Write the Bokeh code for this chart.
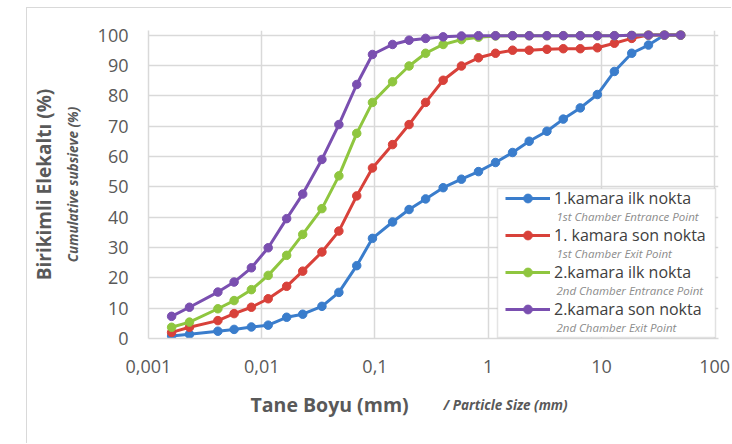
from bokeh.plotting import figure
from bokeh.layouts import column
from bokeh.models import (Range1d, FixedTicker, LinearAxis, CustomJSTickFormatter,
                          Label, Legend, LegendItem, BoxAnnotation)
from bokeh.embed import file_html
from bokeh.resources import INLINE

# ---------------- data ----------------
size_mm = [0.0016, 0.0023, 0.0041, 0.0057, 0.0081, 0.0114, 0.0166, 0.023, 0.034, 0.048,
           0.069, 0.095, 0.143, 0.2, 0.28, 0.4, 0.58, 0.82, 1.16, 1.64,
           2.3, 3.3, 4.6, 6.5, 9.2, 13, 18.5, 26, 36, 50]

ch1_entrance = [0.8, 1.4, 2.4, 3.0, 3.8, 4.4, 7.0, 8.0, 10.6, 15.2,
                24.0, 33.0, 38.4, 42.5, 46.0, 49.7, 52.5, 55.0, 58.0, 61.3,
                65.0, 68.3, 72.3, 76.0, 80.4, 88.0, 94.0, 96.7, 100, 100]
ch1_exit = [2.0, 3.7, 5.9, 8.2, 10.3, 13.1, 17.2, 22.2, 28.5, 35.4,
            47.0, 56.2, 63.9, 70.5, 77.8, 85.1, 89.8, 92.5, 94.0, 95.0,
            95.0, 95.3, 95.5, 95.5, 95.8, 97.3, 98.9, 100, 100, 100]
ch2_entrance = [3.7, 5.4, 9.8, 12.5, 16.1, 20.8, 27.4, 34.3, 42.8, 53.6,
                67.6, 77.8, 84.6, 89.8, 94.0, 96.9, 98.5, 99.3, 99.7, 99.8,
                99.8, 99.8, 99.8, 99.8, 99.8, 99.8, 99.9, 100, 100, 100]
ch2_exit = [7.3, 10.3, 15.3, 18.6, 23.3, 29.9, 39.5, 47.6, 59.0, 70.5,
            83.7, 93.6, 96.9, 98.3, 98.9, 99.4, 99.7, 99.8, 99.8, 99.8,
            99.8, 99.8, 99.8, 99.8, 99.8, 99.8, 99.9, 100, 100, 100]

series_names = ["1.kamara ilk nokta", "1. kamara son nokta",
                "2.kamara ilk nokta", "2.kamara son nokta"]
series_sub = ["1st Chamber Entrance Point", "1st Chamber Exit Point",
              "2nd Chamber Entrance Point", "2nd Chamber Exit Point"]
series_vals = [ch1_entrance, ch1_exit, ch2_entrance, ch2_exit]
series_colors = ["#3a7dcc", "#d8413a", "#8fc63f", "#7a4fb0"]

x_ticks = [0.001, 0.01, 0.1, 1, 10, 100]
y_ticks = [0, 10, 20, 30, 40, 50, 60, 70, 80, 90, 100]

TXT = "#595959"
GRID = "#d9d9d9"
FONT = "Open Sans"

p = figure(width=704, height=378, x_axis_type="log",
           x_range=Range1d(0.001, 108), y_range=Range1d(0, 101.5),
           output_backend="svg", toolbar_location=None,
           min_border_left=121, min_border_right=13,
           min_border_top=22, min_border_bottom=48)
p.outline_line_color = None
p.background_fill_color = "white"
p.border_fill_color = "white"

# axes
p.xaxis.ticker = FixedTicker(ticks=x_ticks)
p.xgrid.ticker = FixedTicker(ticks=x_ticks)
p.yaxis.ticker = FixedTicker(ticks=y_ticks)
p.ygrid.ticker = FixedTicker(ticks=y_ticks)
p.xaxis.formatter = CustomJSTickFormatter(code="return tick.toString().replace('.', ',');")
for ax in (p.xaxis[0], p.yaxis[0]):
    ax.axis_line_color = GRID
    ax.axis_line_width = 1.5
    ax.major_tick_line_color = None
    ax.minor_tick_line_color = None
    ax.major_tick_out = 0
    ax.major_tick_in = 0
    ax.minor_tick_out = 0
    ax.minor_tick_in = 0
    ax.major_label_text_color = TXT
    ax.major_label_text_font = FONT
    ax.major_label_text_font_size = "18px"
p.xaxis.major_label_standoff = 21
p.yaxis.major_label_standoff = 20
p.yaxis.axis_label = "Cumulative subsieve (%)"
p.yaxis.axis_label_text_font = FONT
p.yaxis.axis_label_text_font_size = "13.5px"
p.yaxis.axis_label_text_font_style = "bold italic"
p.yaxis.axis_label_text_color = TXT
p.yaxis.axis_label_standoff = 13

outer = LinearAxis(ticker=FixedTicker(ticks=[]), axis_label="Birikimli Elekaltı (%)",
                   axis_line_color=None, major_tick_line_color=None,
                   minor_tick_line_color=None, major_tick_out=0, major_tick_in=0,
                   minor_tick_out=0, minor_tick_in=0,
                   major_label_text_font_size="1px", major_label_standoff=0,
                   axis_label_text_font=FONT, axis_label_text_font_size="19px",
                   axis_label_text_font_style="bold", axis_label_text_color=TXT,
                   axis_label_standoff=4)
p.add_layout(outer, "left")

p.grid.grid_line_color = GRID
p.grid.grid_line_width = 1.5

# series
items = []
for name, vals, col in zip(series_names, series_vals, series_colors):
    ln = p.line(size_mm, vals, line_color=col, line_width=3)
    sc = p.scatter(size_mm, vals, size=8.5, fill_color=col, line_color=col)
    items.append(LegendItem(label=name, renderers=[ln, sc]))

# legend box
p.add_layout(BoxAnnotation(left=349, right=567, top=150, bottom=1,
                           left_units="screen", right_units="screen",
                           top_units="screen", bottom_units="screen",
                           fill_color="white", fill_alpha=1,
                           line_color="#a6a6a6", line_width=1.5))

legend = Legend(items=items, location=(357, 18), orientation="vertical",
                padding=0, margin=0, spacing=15, label_height=22, glyph_height=22,
                glyph_width=45, label_standoff=4,
                border_line_color=None, background_fill_alpha=0,
                label_text_font=FONT, label_text_font_size="16px",
                label_text_color="#404040")
p.add_layout(legend)

for i, sub in enumerate(series_sub):
    p.add_layout(Label(x=408, y=122.5 - 37 * i, x_units="screen", y_units="screen",
                       text=sub, text_font=FONT, text_font_size="11.5px",
                       text_font_style="italic", text_color="#8c8c8c",
                       text_baseline="middle", text_align="left"))

# strip below the chart holding the two-style x-axis title
p2 = figure(width=704, height=57, x_range=Range1d(0, 1), y_range=Range1d(0, 1),
            output_backend="svg", toolbar_location=None,
            x_axis_location=None, y_axis_location=None,
            min_border_left=0, min_border_right=0, min_border_top=0, min_border_bottom=0)
p2.outline_line_color = None
p2.grid.visible = False
p2.background_fill_color = "white"
p2.border_fill_color = "white"
p2.add_layout(Label(x=102, y=39, x_units="screen", y_units="screen",
                    text="Tane Boyu (mm)", text_font=FONT, text_font_size="19.5px",
                    text_font_style="bold", text_color=TXT,
                    text_baseline="middle", text_align="left"))
p2.add_layout(Label(x=295, y=39, x_units="screen", y_units="screen",
                    text="/ Particle Size (mm)", text_font=FONT, text_font_size="13.5px",
                    text_font_style="bold italic", text_color=TXT,
                    text_baseline="middle", text_align="left"))

layout = column(p, p2, styles={"margin-left": "26px", "margin-top": "7px",
                               "border-left": "1px solid #d9d9d9",
                               "border-top": "1px solid #d9d9d9"})

open("out.html", "w").write(file_html(layout, INLINE))
